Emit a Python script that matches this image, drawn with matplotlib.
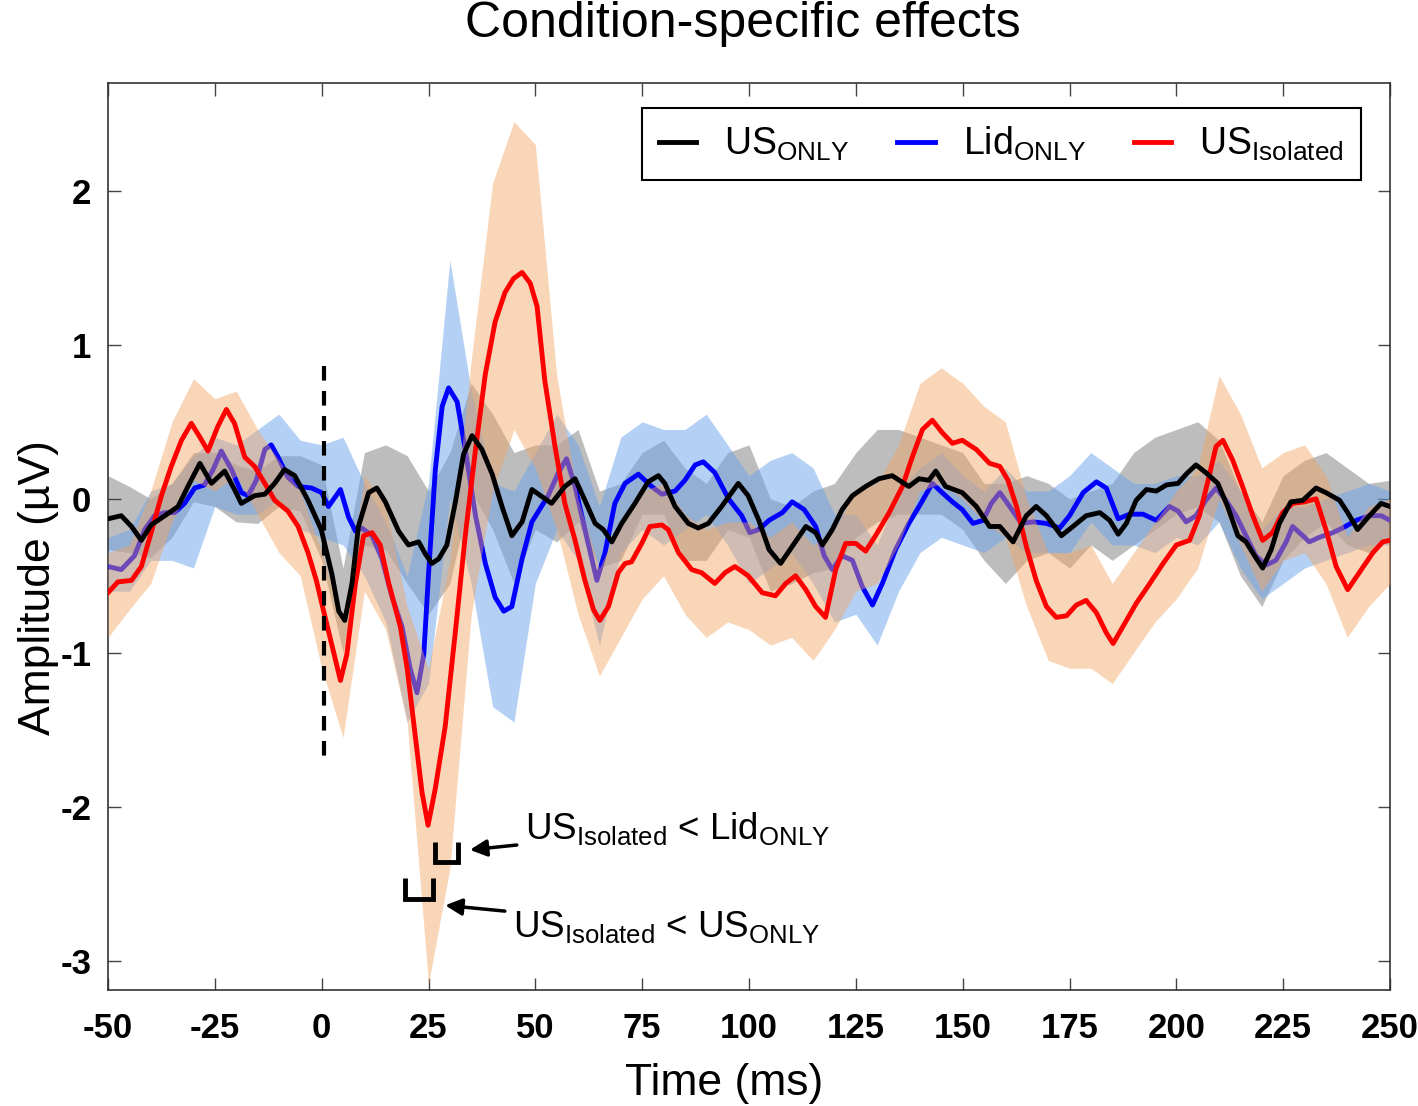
import numpy as np
import matplotlib
matplotlib.use("Agg")
import matplotlib.pyplot as plt
from matplotlib.lines import Line2D

plt.rcParams['font.family'] = ['Liberation Sans', 'DejaVu Sans']
plt.rcParams['mathtext.fontset'] = 'custom'
plt.rcParams['mathtext.rm'] = 'Liberation Sans'
plt.rcParams['mathtext.it'] = 'Liberation Sans:italic'
plt.rcParams['mathtext.bf'] = 'Liberation Sans:bold'

# ---------------- data ----------------
title = "Condition-specific effects"
xlabel = "Time (ms)"
ylabel = "Amplitude (µV)"
xticks = [-50, -25, 0, 25, 50, 75, 100, 125, 150, 175, 200, 225, 250]
yticks = [-3, -2, -1, 0, 1, 2]

t_black = [-50, -46.9, -44.5, -42.2, -39.9, -36.7, -33.6, -31.3, -28.5, -25.8, -22.7, -20.4, -18.8, -15.7, -13.3, -11.0, -8.7, -6.3, -3.2, -0.1,
           2.4, 4.0, 5.4, 7.1, 8.6, 11.0, 12.9, 14.9, 18.0, 20.3, 22.7, 24.3, 25.8, 27.4, 29.3, 31.3, 33.2, 35.2, 37.5, 39.9, 42.2, 44.5, 46.9, 49.2,
           53.8, 56.9, 59.3, 61.6, 64.0, 65.9, 67.9, 70.2, 73.3, 76.4, 78.8, 80.3, 82.7, 85.8, 88.1, 90.5, 93.6, 97.5, 99.8,
           102.3, 104.7, 107.4, 110.1, 113.3, 115.6, 117.2, 119.5, 121.8, 124.2, 127.3, 130.4, 133.5, 137.4, 139.8, 142.1, 143.7, 146.0, 149.9,
           153.2, 156.3, 158.7, 161.8, 164.9, 167.2, 169.6, 173.1, 175.8, 178.9, 182.1, 184.4, 186.4, 188.3, 190.6, 193.0, 195.3, 197.7, 200.4,
           202.3, 204.6, 206.9, 209.7, 212.0, 214.4, 216.3, 218.3, 220.2, 222.2, 224.1, 226.8, 229.6, 232.7, 235.0, 238.2, 240.1, 242.4, 245.2, 247.9, 250]
v_black = [-0.13, -0.11, -0.18, -0.27, -0.17, -0.11, -0.05, 0.08, 0.23, 0.10, 0.18, 0.06, -0.03, 0.02, 0.03, 0.10, 0.19, 0.15, -0.01, -0.20,
           -0.49, -0.73, -0.79, -0.55, -0.18, 0.04, 0.07, -0.02, -0.21, -0.30, -0.28, -0.36, -0.42, -0.39, -0.30, -0.02, 0.29, 0.41, 0.32, 0.16, -0.05, -0.24, -0.15, 0.06,
           -0.03, 0.08, 0.13, -0.01, -0.16, -0.20, -0.28, -0.16, -0.03, 0.11, 0.15, 0.10, -0.05, -0.16, -0.19, -0.16, -0.05, 0.10, 0.02,
           -0.14, -0.33, -0.42, -0.31, -0.18, -0.22, -0.30, -0.20, -0.07, 0.02, 0.08, 0.13, 0.15, 0.08, 0.13, 0.12, 0.18, 0.08, 0.04,
           -0.05, -0.18, -0.18, -0.28, -0.11, -0.05, -0.11, -0.24, -0.18, -0.11, -0.09, -0.14, -0.23, -0.16, -0.01, 0.06, 0.05, 0.09, 0.10,
           0.16, 0.22, 0.17, 0.10, -0.05, -0.24, -0.28, -0.37, -0.45, -0.33, -0.16, -0.02, -0.01, 0.07, 0.04, -0.01, -0.09, -0.20, -0.11, -0.03, -0.05]

t_blue = [-50, -46.9, -43.8, -41.4, -39.1, -36.7, -34.4, -32.1, -29.7, -27.4, -25.4, -23.5, -21.1, -18.8, -17.2, -15.3, -13.3, -11.8, -10.2, -7.9, -5.5, -2.4, 0.0,
          1.6, 4.4, 6.3, 7.9, 9.4, 11.8, 14.1, 16.5, 18.8, 20.7, 22.3, 23.9, 25.0, 26.6, 28.2, 29.7, 31.7, 33.6, 36.0, 38.3, 40.6, 42.6, 44.5, 46.9, 49.2,
          53.0, 55.4, 57.3, 59.3, 61.6, 64.4, 66.3, 68.6, 71.0, 74.1, 77.2, 79.6, 82.7, 85.0, 87.4, 89.3, 92.0, 95.2, 98.3, 100.2,
          102.3, 104.7, 107.8, 110.1, 112.9, 115.6, 117.6, 119.5, 121.8, 124.2, 126.5, 128.9, 131.2, 134.3, 137.4, 139.8, 142.9, 145.2, 147.6, 149.9,
          152.4, 154.8, 156.7, 158.7, 161.0, 163.7, 166.5, 169.6, 172.7, 175.0, 178.2, 181.3, 183.6, 186.4, 189.1, 192.2, 195.3, 198.4, 200.4,
          202.3, 204.6, 206.9, 209.3, 211.6, 214.0, 216.3, 218.6, 221.0, 223.3, 225.7, 227.2, 229.6, 231.1, 233.5, 236.6, 238.9, 242.1, 245.2, 247.9, 250]
v_blue = [-0.44, -0.46, -0.37, -0.20, -0.11, -0.09, -0.09, -0.03, 0.07, 0.09, 0.19, 0.31, 0.19, 0.04, 0.02, 0.12, 0.32, 0.35, 0.27, 0.14, 0.08, 0.07, 0.04,
          -0.05, 0.06, -0.12, -0.21, -0.19, -0.24, -0.39, -0.64, -0.83, -1.10, -1.26, -1.01, -0.49, 0.19, 0.60, 0.72, 0.63, 0.32, -0.11, -0.42, -0.64, -0.73, -0.70, -0.39, -0.15,
          0.02, 0.17, 0.26, 0.08, -0.20, -0.53, -0.35, -0.03, 0.10, 0.16, 0.08, 0.03, 0.05, 0.12, 0.22, 0.24, 0.17, 0.00, -0.11, -0.22,
          -0.20, -0.14, -0.09, -0.02, -0.07, -0.18, -0.37, -0.46, -0.37, -0.40, -0.57, -0.69, -0.55, -0.33, -0.16, -0.05, 0.10, 0.04, -0.02, -0.07,
          -0.16, -0.14, -0.03, 0.04, -0.05, -0.16, -0.15, -0.16, -0.19, -0.11, 0.04, 0.11, 0.07, -0.13, -0.10, -0.10, -0.14, -0.05, -0.08,
          -0.15, -0.11, -0.01, 0.07, -0.01, -0.11, -0.24, -0.37, -0.43, -0.40, -0.28, -0.18, -0.24, -0.28, -0.25, -0.22, -0.19, -0.14, -0.11, -0.11, -0.14]

t_red = [-50, -47.7, -44.5, -42.2, -39.9, -37.5, -35.2, -32.8, -30.5, -28.5, -26.6, -24.3, -22.3, -20.4, -18.0, -15.7, -13.3, -11.0, -7.9, -5.5, -3.2, -1.25, 0.2,
         2.4, 4.4, 5.9, 7.9, 9.8, 11.8, 13.7, 15.7, 18.4, 20.0, 21.9, 23.5, 24.9, 26.6, 28.9, 31.3, 33.6, 36.0, 38.3, 40.6, 42.9, 44.9, 46.9, 48.8, 50.4,
         52.2, 54.6, 56.9, 59.3, 61.6, 63.6, 65.1, 67.1, 69.4, 71.0, 72.5, 74.9, 76.8, 79.6, 81.1, 83.5, 86.6, 88.9, 92.0, 94.4, 96.7, 99.8,
         103.1, 106.2, 108.6, 110.9, 113.3, 115.6, 117.9, 120.3, 122.6, 125.0, 127.3, 129.6, 132.8, 135.9, 138.2, 140.6, 142.9, 145.2, 147.6, 149.9,
         153.2, 156.3, 158.7, 160.6, 162.6, 164.9, 167.2, 169.6, 171.9, 174.3, 176.6, 178.9, 181.3, 183.6, 185.2, 187.5, 190.6, 193.8, 196.9, 200.0,
         203.1, 205.4, 207.7, 209.3, 210.9, 213.2, 215.5, 217.9, 220.2, 222.5, 224.9, 227.2, 230.0, 232.7, 235.0, 237.4, 240.1, 242.8, 246.0, 248.3, 250]
v_red = [-0.61, -0.54, -0.53, -0.44, -0.22, 0.02, 0.21, 0.38, 0.49, 0.40, 0.31, 0.47, 0.58, 0.49, 0.27, 0.21, 0.10, -0.01, -0.08, -0.18, -0.35, -0.53, -0.70,
         -0.95, -1.18, -1.01, -0.55, -0.24, -0.22, -0.30, -0.55, -0.83, -1.10, -1.54, -1.91, -2.12, -1.88, -1.48, -0.86, -0.24, 0.32, 0.81, 1.15, 1.34, 1.43, 1.47, 1.40, 1.25,
         0.77, 0.34, -0.03, -0.27, -0.53, -0.72, -0.79, -0.70, -0.48, -0.42, -0.41, -0.29, -0.18, -0.17, -0.20, -0.35, -0.46, -0.48, -0.55, -0.48, -0.44, -0.50,
         -0.61, -0.63, -0.55, -0.50, -0.59, -0.70, -0.77, -0.46, -0.29, -0.29, -0.34, -0.24, -0.09, 0.08, 0.27, 0.45, 0.51, 0.43, 0.36, 0.38,
         0.32, 0.23, 0.21, 0.12, -0.05, -0.31, -0.53, -0.70, -0.77, -0.76, -0.69, -0.66, -0.74, -0.87, -0.94, -0.83, -0.68, -0.55, -0.42, -0.30,
         -0.27, -0.11, 0.15, 0.34, 0.38, 0.25, 0.08, -0.11, -0.27, -0.22, -0.09, -0.03, -0.02, 0.00, -0.20, -0.44, -0.59, -0.48, -0.35, -0.28, -0.27]

# error bands, sampled every 5 ms from -50 to 250
t_band = np.arange(-50, 251, 5)
black_up = [0.15, 0.08, 0.00, 0.10, 0.30, 0.30, 0.22, 0.18, 0.28, 0.28, 0.22, -0.45, 0.30, 0.35, 0.28, 0.05, 0.30, 0.75, 0.55, 0.30,
            0.35, 0.35, 0.45, 0.05, 0.10, 0.30, 0.38, 0.20, 0.10, 0.30, 0.35, 0.00, -0.05, 0.05, 0.10, 0.30, 0.45, 0.45, 0.40, 0.35,
            0.30, 0.10, 0.10, 0.15, 0.10, 0.00, 0.05, 0.10, 0.30, 0.40, 0.45, 0.50, 0.38, 0.05, -0.15, 0.15, 0.25, 0.30, 0.20, 0.10, 0.12]
black_lo = [-0.33, -0.35, -0.38, -0.25, -0.02, -0.05, -0.15, -0.16, -0.05, -0.08, -0.40, -1.00, -0.30, -0.33, -0.55, -0.75, -0.55, 0.05, -0.20, -0.55,
            -0.20, -0.28, -0.15, -0.45, -0.40, -0.10, -0.10, -0.40, -0.40, -0.20, -0.25, -0.60, -0.55, -0.48, -0.45, -0.25, -0.15, -0.10, -0.10, -0.10,
            -0.20, -0.40, -0.55, -0.40, -0.35, -0.45, -0.30, -0.40, -0.30, -0.20, -0.10, -0.05, -0.15, -0.50, -0.70, -0.40, -0.25, -0.15, -0.30, -0.35, -0.25]
blue_up = [-0.25, -0.20, 0.05, 0.10, 0.28, 0.40, 0.35, 0.45, 0.55, 0.38, 0.35, 0.40, 0.10, -0.15, -0.50, 0.10, 1.55, 0.70, 0.10, 0.05,
           0.30, 0.55, 0.35, -0.05, 0.40, 0.50, 0.45, 0.45, 0.55, 0.35, 0.15, 0.25, 0.30, 0.20, -0.10, -0.10, -0.30, 0.05, 0.20, 0.30,
           0.15, 0.05, 0.20, 0.05, 0.05, 0.15, 0.30, 0.20, 0.10, 0.10, 0.15, 0.15, 0.25, 0.05, -0.20, -0.05, -0.05, 0.00, 0.05, 0.10, 0.05]
blue_lo = [-0.60, -0.60, -0.40, -0.40, -0.45, -0.05, -0.10, -0.10, 0.00, -0.20, -0.25, -0.30, -0.50, -0.80, -1.45, -1.20, 0.00, -0.55, -1.35, -1.45,
           -0.55, -0.20, -0.40, -0.95, -0.35, -0.20, -0.30, -0.20, -0.10, -0.30, -0.55, -0.45, -0.35, -0.55, -0.80, -0.75, -0.95, -0.60, -0.35, -0.25,
           -0.30, -0.35, -0.25, -0.35, -0.35, -0.35, -0.15, -0.30, -0.30, -0.35, -0.25, -0.30, -0.15, -0.45, -0.65, -0.55, -0.45, -0.40, -0.35, -0.30, -0.30]
red_up = [-0.35, -0.30, 0.05, 0.50, 0.78, 0.65, 0.70, 0.45, 0.25, 0.05, -0.35, -0.80, 0.15, -0.05, -0.70, -1.10, -0.40, 0.90, 2.05, 2.45,
          2.30, 0.80, 0.00, -0.45, -0.15, 0.05, 0.10, -0.10, -0.20, -0.15, -0.15, -0.25, -0.15, -0.30, -0.20, 0.05, 0.10, 0.35, 0.75, 0.85,
          0.75, 0.60, 0.50, 0.00, -0.35, -0.35, -0.30, -0.55, -0.35, -0.15, 0.05, 0.20, 0.80, 0.55, 0.20, 0.30, 0.35, 0.15, -0.25, -0.05, 0.00]
red_lo = [-0.90, -0.72, -0.55, -0.15, 0.12, 0.05, 0.15, -0.10, -0.35, -0.50, -1.10, -1.55, -0.60, -0.85, -1.45, -3.15, -2.40, -0.75, 0.05, 0.45,
          0.20, -0.20, -0.75, -1.15, -0.90, -0.65, -0.50, -0.75, -0.90, -0.80, -0.85, -0.95, -0.90, -1.05, -0.85, -0.60, -0.55, -0.30, 0.05, 0.10,
          0.00, -0.15, -0.25, -0.70, -1.05, -1.10, -1.10, -1.20, -1.00, -0.80, -0.65, -0.45, 0.00, -0.30, -0.60, -0.40, -0.35, -0.55, -0.90, -0.70, -0.55]

legend_labels = [r'US$_{\mathrm{ONLY}}$', r'Lid$_{\mathrm{ONLY}}$', r'US$_{\mathrm{Isolated}}$']
ann1_text = r'US$_{\mathrm{Isolated}}$ < Lid$_{\mathrm{ONLY}}$'
ann2_text = r'US$_{\mathrm{Isolated}}$ < US$_{\mathrm{ONLY}}$'

# reference / annotation geometry (data units)
onset_t, onset_top, onset_bot = 0.5, 0.86, -1.70
bracket1 = (26.5, 31.9, -2.23, -2.36)   # t0, t1, top, bottom
bracket2 = (19.5, 26.1, -2.46, -2.60)

# ---------------- plot ----------------
fig = plt.figure(figsize=(14.18, 11.06), dpi=100)
ax = fig.add_axes([108/1418, 1-990/1106, 1282/1418, 907/1106])

ax.fill_between(t_band, black_lo, black_up, color='#7d7d7d', alpha=0.5, lw=0, zorder=1)
ax.fill_between(t_band, blue_lo, blue_up, color='#6aa5ec', alpha=0.5, lw=0, zorder=2)
ax.plot(t_blue, v_blue, color='#0000ff', lw=3.5, zorder=3, solid_joinstyle='round')
ax.fill_between(t_band, red_lo, red_up, color='#f3a462', alpha=0.45, lw=0, zorder=4)
ax.plot(t_red, v_red, color='#ff0000', lw=3.5, zorder=5, solid_joinstyle='round')
ax.plot(t_black, v_black, color='black', lw=3.5, zorder=6, solid_joinstyle='round')

ax.plot([onset_t, onset_t], [onset_top, onset_bot], color='black', lw=3, ls=(0, (3.5, 2.5)), zorder=7)

for (a, b, top, bot) in (bracket1, bracket2):
    ax.plot([a, a, b, b], [top, bot, bot, top], color='black', lw=3.5, zorder=8,
            solid_joinstyle='miter', solid_capstyle='butt')

ax.annotate(ann1_text, xy=(34.7, -2.28), xytext=(47.6, -2.14), fontsize=26.5,
            va='center', ha='left', zorder=9,
            arrowprops=dict(arrowstyle='-|>', color='black', lw=2.5, mutation_scale=25,
                            shrinkA=4, shrinkB=0))
ax.annotate(ann2_text, xy=(28.9, -2.64), xytext=(44.8, -2.78), fontsize=26.5,
            va='center', ha='left', zorder=9,
            arrowprops=dict(arrowstyle='-|>', color='black', lw=2.5, mutation_scale=25,
                            shrinkA=4, shrinkB=0))

ax.set_xlim(-50, 250)
ax.set_ylim(-3.19, 2.70)
ax.set_xticks(xticks)
ax.set_yticks(yticks)
ax.set_xticklabels([str(v) for v in xticks], fontsize=25, fontweight='bold')
ax.set_yticklabels([str(v) for v in yticks], fontsize=25, fontweight='bold')
ax.tick_params(direction='in', length=9, width=1, top=True, right=True, color='#444444')
ax.tick_params(axis='x', pad=16)
ax.tick_params(axis='y', pad=12)
for s in ax.spines.values():
    s.set_color('#333333')
    s.set_linewidth(1.2)

ax.set_xlabel(xlabel, fontsize=32)
ax.xaxis.set_label_coords(0.4805, -0.080)
ax.set_ylabel(ylabel, fontsize=32)
ax.yaxis.set_label_coords(-0.038, 0.444)

fig.text(0.524, 1 - 24/1106, title, fontsize=36, ha='center', va='center')

handles = [Line2D([], [], color=c, lw=3.5) for c in ('black', '#0000ff', '#ff0000')]
x0 = (642 - 108) / 1282
x1 = (1361 - 108) / 1282
y0 = (990 - 180) / 907
y1 = (990 - 107) / 907
leg = ax.legend(handles, legend_labels, ncol=3, loc='lower left',
                bbox_to_anchor=(x0, y0, x1 - x0, y1 - y0), mode='expand',
                borderaxespad=0, fontsize=27,
                frameon=True, fancybox=False, edgecolor='black', framealpha=1,
                handlelength=1.0, handletextpad=0.75, columnspacing=1.0,
                borderpad=0.45)
leg.get_frame().set_linewidth(1.5)
leg.set_zorder(10)

fig.savefig('out.png', dpi=100)
